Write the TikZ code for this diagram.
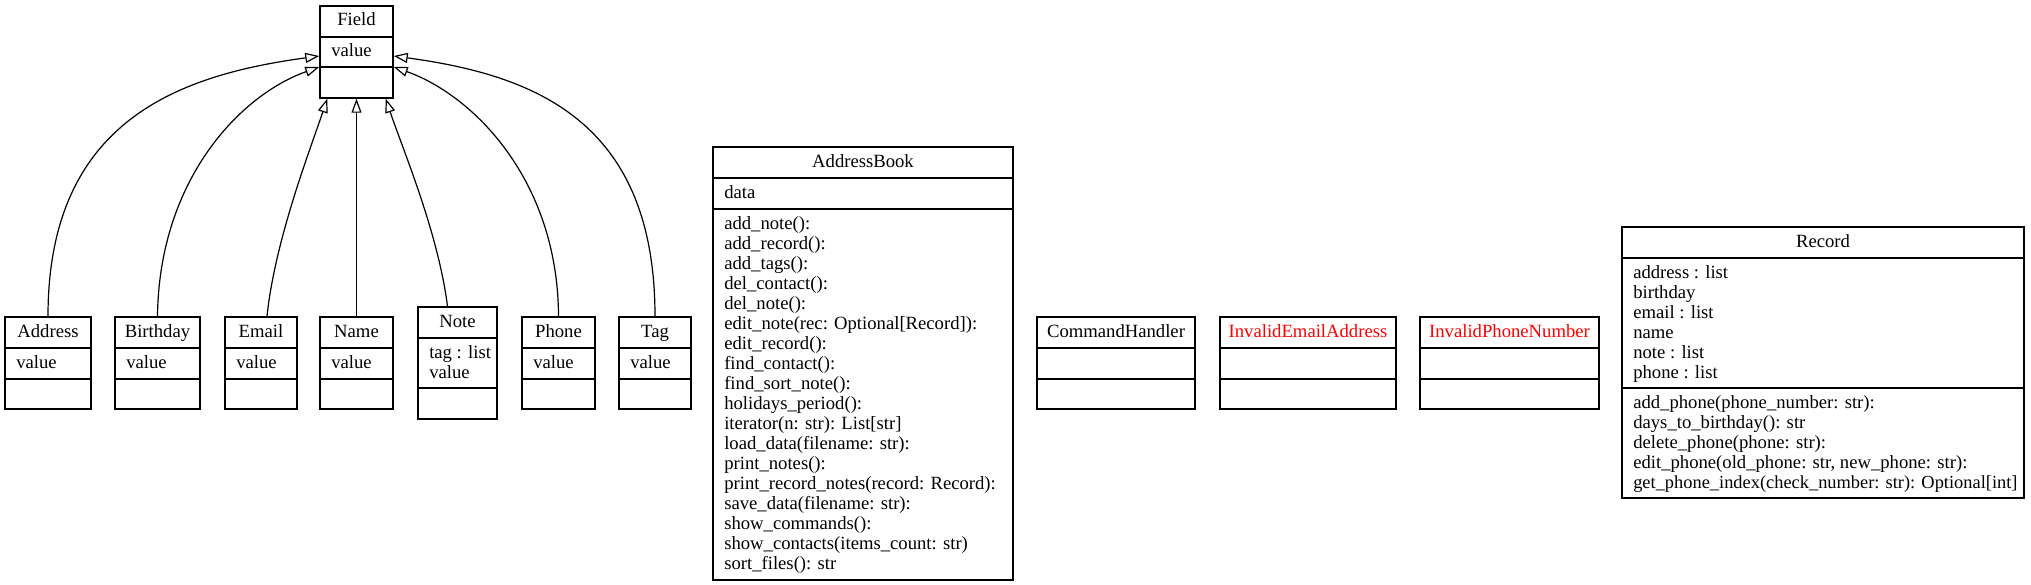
\documentclass[tikz,border=0pt]{standalone}
\usepackage{fontspec}
\setmainfont{Liberation Serif}
\usetikzlibrary{fit,arrows.meta}
\tikzset{
  clsbox/.style={draw, line width=1.1pt, inner sep=0pt},
  divline/.style={line width=1.1pt},
  titletext/.style={anchor=base, inner sep=0pt, font=\fontsize{14pt}{15pt}\selectfont},
  linetext/.style={anchor=base west, inner sep=0pt, font=\fontsize{14pt}{15pt}\selectfont},
  inh/.style={line width=0.9pt, -{Triangle[open,length=10.5pt,width=7.5pt]}}
}
% #1 colour, #2 name, #3 left, #4 top, #5 right, #6 div1, #7 div2, #8 bottom, #9 title
\newcommand\umlbox[9][black]{%
  \node[clsbox, fit={(#3,#4) (#5,#8)}] (#2) {};
  \draw[divline] (#3,#6) -- (#5,#6);
  \draw[divline] (#3,#7) -- (#5,#7);
  \node[titletext, text=#1] (#2-title) at ({(#3+#5)/2},{#4+20}) {#9};
}
% #1 name prefix, #2 left, #3 row top, #4 list
\newcommand\umllines[4]{%
  \foreach \umltxt [count=\i from 0] in {#4} {
    \node[linetext] (#1-\i) at ({#2+11},{#3+20+20*\i}) {\umltxt};
  }
}
\begin{document}
\begin{tikzpicture}[x=0.75pt,y=-0.75pt]
\useasboundingbox[fill=white] (0,0) rectangle (2031,585);

% Field
\umlbox{field}{320}{6}{393}{37}{67}{98}{Field}
\umllines{field-a}{320}{37}{value}

% children
\umlbox{address}{5}{317}{91}{348}{379}{409}{Address}
\umllines{address-a}{5}{348}{value}
\umlbox{birthday}{115}{317}{200}{348}{379}{409}{Birthday}
\umllines{birthday-a}{115}{348}{value}
\umlbox{email}{225}{317}{297}{348}{379}{409}{Email}
\umllines{email-a}{225}{348}{value}
\umlbox{name}{320}{317}{393}{348}{379}{409}{Name}
\umllines{name-a}{320}{348}{value}
\umlbox{note}{418}{307}{497}{338}{388}{419}{Note}
\umllines{note-a}{418}{338}{tag : list,value}
\umlbox{phone}{522}{317}{595}{348}{379}{409}{Phone}
\umllines{phone-a}{522}{348}{value}
\umlbox{tag}{619}{317}{691}{348}{379}{409}{Tag}
\umllines{tag-a}{619}{348}{value}

% AddressBook
\umlbox{abook}{713}{147}{1013}{178}{209}{580}{AddressBook}
\umllines{abook-a}{713}{178}{data}
\umllines{abook-m}{713}{209}{add\_note():,add\_record():,add\_tags():,del\_contact():,del\_note():,edit\_note(rec: Optional[Record]):,edit\_record():,find\_contact():,find\_sort\_note():,holidays\_period():,iterator(n: str): List[str],load\_data(filename: str):,print\_notes():,print\_record\_notes(record: Record):,save\_data(filename: str):,show\_commands():,show\_contacts(items\_count: str),sort\_files(): str}

% other classes
\umlbox{cmd}{1037}{317}{1195}{348}{379}{409}{CommandHandler}
\umlbox[red]{invemail}{1220}{317}{1396}{348}{379}{409}{InvalidEmailAddress}
\umlbox[red]{invphone}{1420}{317}{1599}{348}{379}{409}{InvalidPhoneNumber}

% Record
\umlbox{record}{1622}{227}{2024}{258}{388}{498}{Record}
\umllines{record-a}{1622}{258}{address : list,birthday,email : list,name,note : list,phone : list}
\umllines{record-m}{1622}{388}{add\_phone(phone\_number: str):,days\_to\_birthday(): str,delete\_phone(phone: str):,{edit\_phone(old\_phone: str, new\_phone: str):},{\fontsize{13.8pt}{15pt}\selectfont get\_phone\_index(check\_number: str): Optional[int]}}

% inheritance edges
\draw[inh] (address.north) .. controls (48,120) and (180,75) .. ([yshift=-3pt]field.west);
\draw[inh] (birthday.north) .. controls (159,180) and (240,95) .. ([yshift=-11.25pt]field.west);
\draw[inh] ([xshift=4.5pt]email.north) .. controls (275,240) and (310,150) .. ([xshift=6pt]field.south west);
\draw[inh] (name.north) -- (field.south);
\draw[inh] ([xshift=-7.5pt]note.north) .. controls (438,232) and (403,150) .. ([xshift=-6pt]field.south east);
\draw[inh] (phone.north) .. controls (558,180) and (473,95) .. ([yshift=-11.25pt]field.east);
\draw[inh] (tag.north) .. controls (655,120) and (533,75) .. ([yshift=-3pt]field.east);
\end{tikzpicture}
\end{document}
